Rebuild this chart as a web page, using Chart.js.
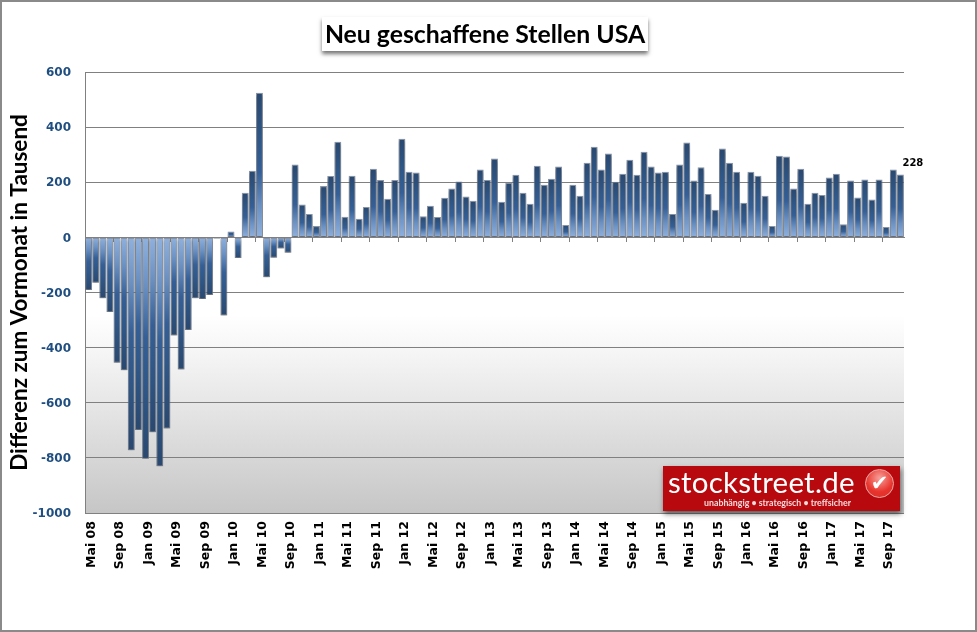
<!DOCTYPE html>
<html lang="de">
<head>
<meta charset="utf-8">
<title>Neu geschaffene Stellen USA</title>
<script src="https://cdn.jsdelivr.net/npm/chart.js@4/dist/chart.umd.min.js"></script>
<style>
  html, body { margin: 0; padding: 0; background: #fff; }
  #frame { position: relative; width: 977px; height: 632px; box-sizing: border-box; overflow: hidden; }
  #frame::after { content: ""; position: absolute; inset: 0; border: 2px solid #8a8a8a; box-sizing: border-box; pointer-events: none; }
  canvas { position: absolute; left: 0; top: 0; }
  #title {
    position: absolute; left: 322px; top: 17px; width: 326px; height: 34px; background: #fff;
    font: 700 24.8px/33px Lato, sans-serif; color: #000; text-align: center; white-space: nowrap;
    box-shadow: 0 3px 4px rgba(0,0,0,.55);
  }
  #logo {
    position: absolute; left: 663px; top: 466px; width: 237px; height: 45px; background: #b8090e;
    box-shadow: 1px 3px 5px rgba(0,0,0,.55); color: #fff; font-family: Lato, sans-serif;
  }
  #logo .name { position: absolute; left: 5px; top: 0; font-size: 29.5px; line-height: 32px; letter-spacing: .25px; white-space: nowrap; }
  #logo .claim { position: absolute; left: 41px; top: 30px; font-size: 8.8px; line-height: 13px; font-weight: 700; color: #f3dcdc; white-space: nowrap; }
  #logo .check {
    position: absolute; left: 202px; top: 3px; width: 29px; height: 29px; border-radius: 50%; box-sizing: border-box;
    background: radial-gradient(circle at 50% 30%, #f8a09a, #e8332c 60%, #d8322c);
    border: 1px solid #e9a9a5; color: #fff; font: 700 21px/27px "DejaVu Sans", sans-serif; text-align: center;
  }
</style>
</head>
<body>
<div id="frame">
  <canvas id="jobsChart" width="977" height="632"></canvas>
  <div id="title">Neu geschaffene Stellen USA</div>
  <div id="logo">
    <div class="name">stockstreet.de</div>
    <div class="claim">unabhängig • strategisch • treffsicher</div>
    <div class="check">✔</div>
  </div>
</div>
<script>
const months = [
  "Mai 08","Jun 08","Jul 08","Aug 08","Sep 08","Okt 08","Nov 08","Dez 08",
  "Jan 09","Feb 09","Mrz 09","Apr 09","Mai 09","Jun 09","Jul 09","Aug 09","Sep 09","Okt 09","Nov 09","Dez 09",
  "Jan 10","Feb 10","Mrz 10","Apr 10","Mai 10","Jun 10","Jul 10","Aug 10","Sep 10","Okt 10","Nov 10","Dez 10",
  "Jan 11","Feb 11","Mrz 11","Apr 11","Mai 11","Jun 11","Jul 11","Aug 11","Sep 11","Okt 11","Nov 11","Dez 11",
  "Jan 12","Feb 12","Mrz 12","Apr 12","Mai 12","Jun 12","Jul 12","Aug 12","Sep 12","Okt 12","Nov 12","Dez 12",
  "Jan 13","Feb 13","Mrz 13","Apr 13","Mai 13","Jun 13","Jul 13","Aug 13","Sep 13","Okt 13","Nov 13","Dez 13",
  "Jan 14","Feb 14","Mrz 14","Apr 14","Mai 14","Jun 14","Jul 14","Aug 14","Sep 14","Okt 14","Nov 14","Dez 14",
  "Jan 15","Feb 15","Mrz 15","Apr 15","Mai 15","Jun 15","Jul 15","Aug 15","Sep 15","Okt 15","Nov 15","Dez 15",
  "Jan 16","Feb 16","Mrz 16","Apr 16","Mai 16","Jun 16","Jul 16","Aug 16","Sep 16","Okt 16","Nov 16","Dez 16",
  "Jan 17","Feb 17","Mrz 17","Apr 17","Mai 17","Jun 17","Jul 17","Aug 17","Sep 17","Okt 17","Nov 17"
];

// Veraenderung zum Vormonat, in Tausend
const jobChange = [
  -191,-165,-221,-271,-455,-482,-772,-699,
  -803,-707,-830,-693,-356,-479,-336,-221,-224,-209,-5,-283,
  21,-75,162,242,525,-145,-74,-40,-56,264,119,85,
  41,186,223,347,75,224,68,110,249,208,140,208,
  358,238,235,77,115,74,144,177,203,148,133,246,
  208,286,129,198,227,162,122,260,191,213,257,45,
  191,151,271,329,246,304,202,231,282,227,311,257,
  235,238,85,264,344,206,254,157,100,322,271,238,
  126,238,224,151,41,296,293,177,249,122,162,154,
  217,231,48,206,145,210,137,210,38,246,228
];

const GREY = "#808080";
const labelEvery = 4;

function barGradient(context) {
  const value = jobChange[context.dataIndex];
  const yScale = context.chart.scales.y;
  if (value === undefined || !yScale) return "#35608f";
  const y0 = yScale.getPixelForValue(0);
  const y1 = yScale.getPixelForValue(value);
  // the scale has no size yet on the very first pass
  if (!Number.isFinite(y0) || !Number.isFinite(y1)) return "#35608f";
  const g = context.chart.ctx.createLinearGradient(0, y0, 0, y1);
  g.addColorStop(0, "#8fb1de");
  g.addColorStop(0.22, "#6a90c2");
  g.addColorStop(0.45, "#355f96");
  g.addColorStop(0.7, "#2f5685");
  g.addColorStop(1, "#2a486f");
  return g;
}

// grey fade at the bottom of the plot
const plotBackground = {
  id: "plotBackground",
  beforeDraw(chart) {
    const { ctx, chartArea: a } = chart;
    const g = ctx.createLinearGradient(0, a.top, 0, a.bottom);
    g.addColorStop(0, "#ffffff");
    g.addColorStop(0.55, "#ffffff");
    g.addColorStop(0.63, "#f6f6f6");
    g.addColorStop(0.85, "#dadada");
    g.addColorStop(1, "#c6c6c6");
    ctx.save();
    ctx.fillStyle = g;
    ctx.fillRect(a.left, a.top, a.right - a.left, a.bottom - a.top);
    ctx.restore();
  },
};

const barShadow = {
  id: "barShadow",
  beforeDatasetsDraw(chart) {
    const ctx = chart.ctx;
    ctx.save();
    ctx.shadowColor = "rgba(0,0,0,0.35)";
    ctx.shadowBlur = 3;
    ctx.shadowOffsetY = 2;
  },
  afterDatasetsDraw(chart) {
    chart.ctx.restore();
  },
};

// value label beside the newest bar
const lastValueLabel = {
  id: "lastValueLabel",
  afterDraw(chart) {
    const last = jobChange.length - 1;
    const bar = chart.getDatasetMeta(0).data[last];
    const ctx = chart.ctx;
    ctx.save();
    ctx.font = "700 10px 'DejaVu Sans'";
    ctx.fillStyle = "#000";
    ctx.textAlign = "left";
    ctx.textBaseline = "middle";
    ctx.fillText(String(jobChange[last]), bar.x + 2, bar.y - 11);
    ctx.restore();
  },
};

new Chart(document.getElementById("jobsChart"), {
  type: "bar",
  data: {
    labels: months,
    datasets: [
      {
        data: jobChange,
        backgroundColor: barGradient,
        borderColor: "rgba(120,132,150,0.85)",
        borderWidth: 1,
        borderSkipped: false,
        barPercentage: 0.97,
        categoryPercentage: 1,
      },
    ],
  },
  options: {
    responsive: false,
    animation: false,
    devicePixelRatio: 1,
    layout: { padding: { left: 0, top: 72, right: 73, bottom: 0 } },
    plugins: { legend: { display: false }, tooltip: { enabled: false } },
    scales: {
      y: {
        min: -1000,
        max: 600,
        ticks: {
          stepSize: 200,
          padding: 14,
          labelOffset: 1,
          color: "#1f4e80",
          font: { family: "'DejaVu Sans'", size: 12, weight: "700" },
          callback: (value) => String(value),
        },
        grid: { color: GREY, lineWidth: 1, drawTicks: false },
        border: { color: GREY, width: 1 },
        title: {
          display: true,
          text: "Differenz zum Vormonat in Tausend",
          color: "#000",
          font: { family: "Lato", size: 22.5, weight: "700" },
          padding: { top: 6, bottom: 0 },
        },
        afterFit(scale) { scale.width = 85; },
      },
      x: {
        grid: { display: false, drawTicks: false },
        border: { display: false },
        ticks: {
          autoSkip: false,
          minRotation: 90,
          maxRotation: 90,
          padding: 8,
          labelOffset: 3,
          color: "#000",
          font: { family: "'DejaVu Sans'", size: 12.5, weight: "700" },
          callback(value, index) {
            return index % labelEvery === 0 ? this.getLabelForValue(value) : "";
          },
        },
        afterFit(scale) { scale.height = 119; },
      },
      // zero line with its short tick marks
      zeroAxis: {
        type: "category",
        axis: "x",
        labels: months,
        position: { y: 0 },
        grid: {
          offset: true,
          drawOnChartArea: false,
          tickLength: 4,
          tickColor: (c) => (c.index % labelEvery === 0 ? GREY : "transparent"),
        },
        border: { color: GREY, width: 1 },
        ticks: { display: false, autoSkip: false },
      },
    },
  },
  plugins: [plotBackground, barShadow, lastValueLabel],
});
</script>
</body>
</html>
